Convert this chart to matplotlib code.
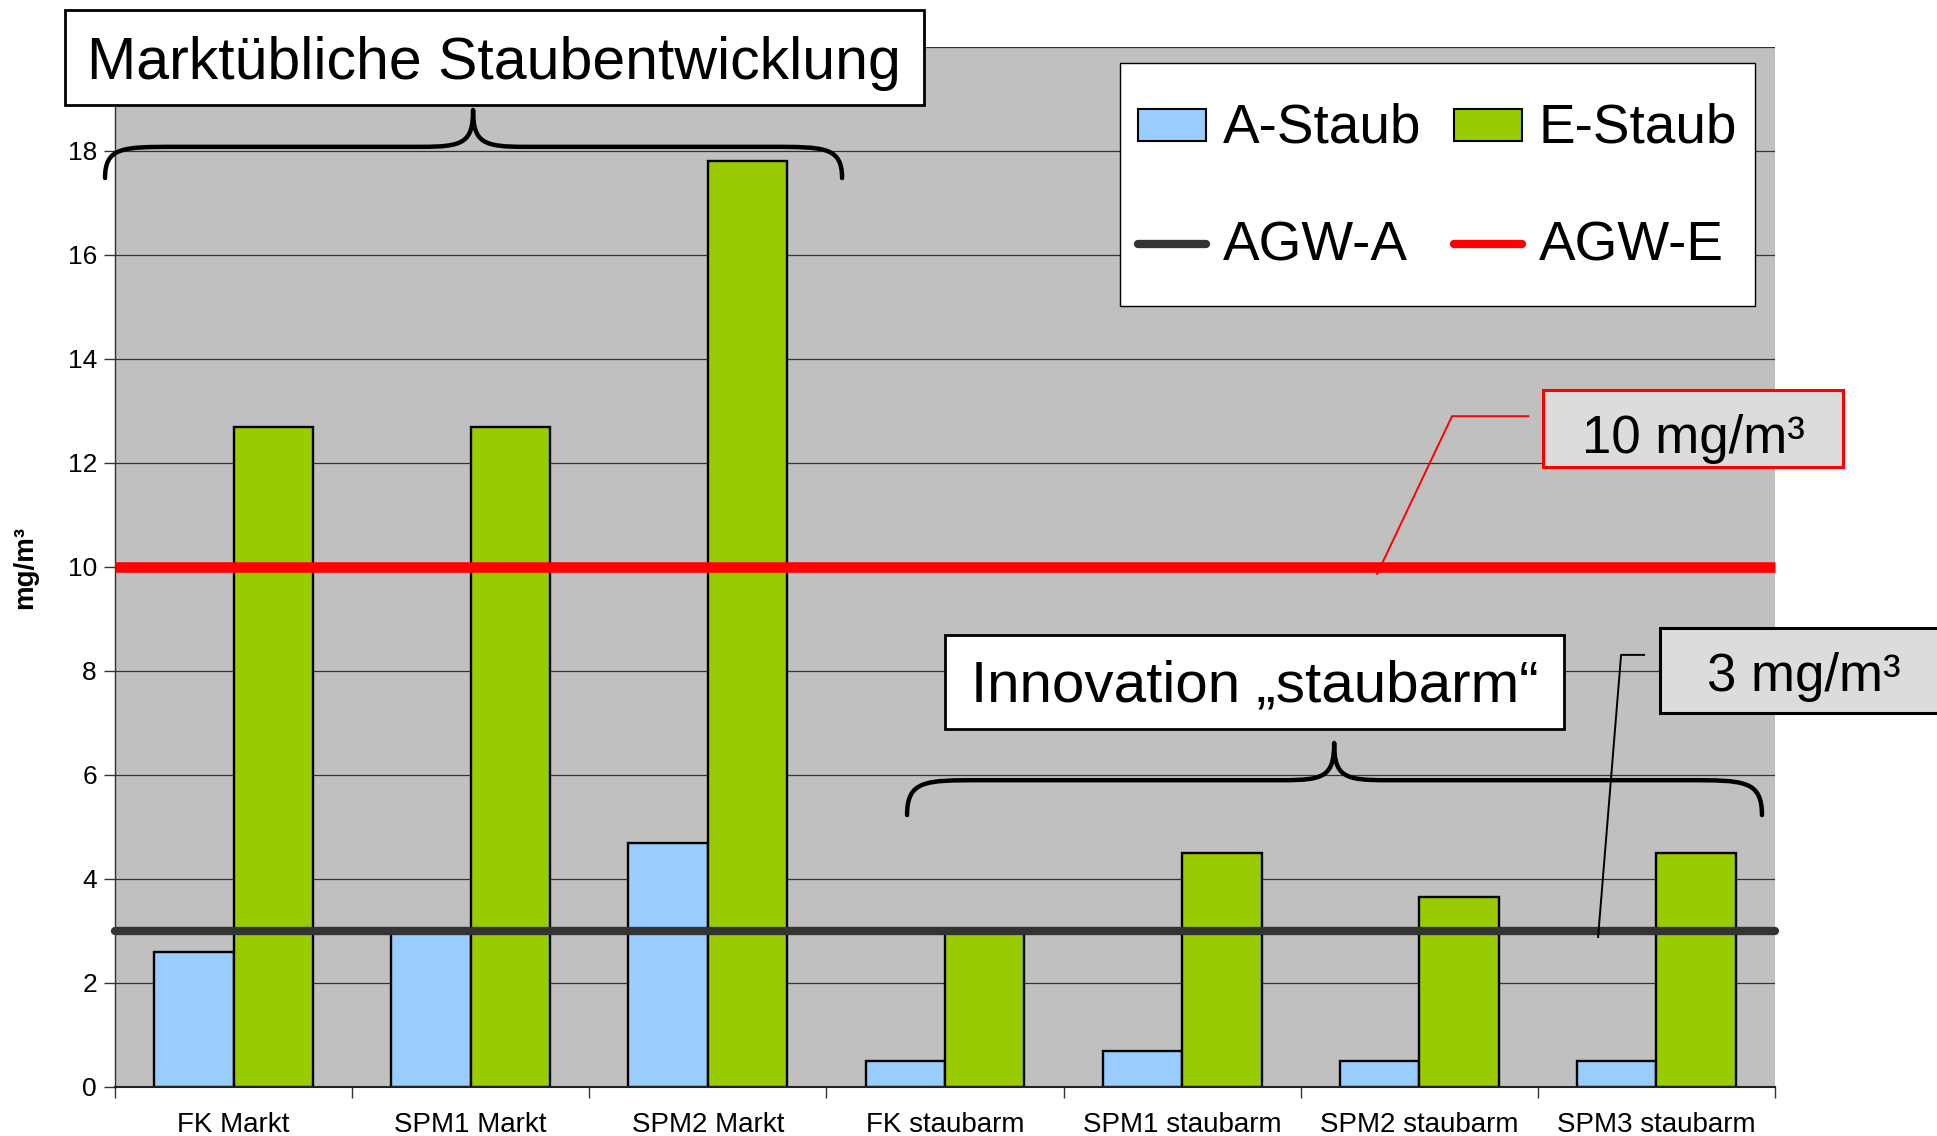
import numpy as np
import matplotlib
matplotlib.use("Agg")
import matplotlib.pyplot as plt
import matplotlib.patches as mpatches
from matplotlib.path import Path
from matplotlib.legend_handler import HandlerPatch, HandlerLine2D
from matplotlib.lines import Line2D

plt.rcParams['font.family'] = ['Liberation Sans', 'DejaVu Sans']

# ---------------- data ----------------
categories = ["FK Markt", "SPM1 Markt", "SPM2 Markt", "FK staubarm",
              "SPM1 staubarm", "SPM2 staubarm", "SPM3 staubarm"]
a_staub = [2.6, 3.0, 4.7, 0.5, 0.7, 0.5, 0.5]
e_staub = [12.7, 12.7, 17.8, 3.0, 4.5, 3.65, 4.5]
agw_a = 3.0
agw_e = 10.0
y_ticks = [0, 2, 4, 6, 8, 10, 12, 14, 16, 18, 20]
series_names = ["A-Staub", "E-Staub", "AGW-A", "AGW-E"]
title_text = "Marktübliche Staubentwicklung"
innov_text = "Innovation \u201estaubarm\u201c"
label_e = "10 mg/m\u00b3"
label_a = "3 mg/m\u00b3"
y_label = "mg/m\u00b3"

# ---------------- styles ----------------
c_a = "#99CCFF"
c_e = "#99CC00"
c_agwa = "#333333"
c_agwe = "#FF0000"
bg = "#C0C0C0"

W, H = 1937, 1136
fig = plt.figure(figsize=(W / 100, H / 100), dpi=100)
ax = fig.add_axes([115 / W, (H - 1087) / H, (1775 - 115) / W, 1040 / H])
ax.set_facecolor(bg)

x = np.arange(len(categories))
bw = 0.335
ax.bar(x - bw / 2, a_staub, width=bw, color=c_a, edgecolor="black", linewidth=1.7, zorder=2, label=series_names[0])
ax.bar(x + bw / 2, e_staub, width=bw, color=c_e, edgecolor="black", linewidth=1.7, zorder=2, label=series_names[1])

ax.set_xlim(-0.5, len(categories) - 0.5)
ax.set_ylim(0, 20)

la, = ax.plot([-0.5, len(categories) - 0.5], [agw_a, agw_a], color=c_agwa, lw=6,
              solid_capstyle="round", zorder=4, clip_on=False, label=series_names[2])
le, = ax.plot([-0.5, len(categories) - 0.5], [agw_e, agw_e], color=c_agwe, lw=7.6,
              solid_capstyle="butt", zorder=4, clip_on=False, label=series_names[3])

# grid & axes
ax.set_yticks(y_ticks)
ax.yaxis.grid(True, color="#333333", lw=0.9)
ax.set_axisbelow(True)
ax.set_xticks(x)
ax.set_xticklabels(categories, fontsize=20)
ax.set_xticks(np.arange(-0.5, len(categories), 1.0), minor=True)
ax.tick_params(axis="x", which="major", length=0, pad=18)
ax.tick_params(axis="x", which="minor", length=8, color="#333333", width=1)
ax.tick_params(axis="y", length=8, color="#333333", width=1, labelsize=19, pad=5)
for s in ["top", "right"]:
    ax.spines[s].set_visible(False)
ax.spines["left"].set_color("#333333")
ax.spines["left"].set_linewidth(1)
ax.spines["bottom"].set_color("#222222")
ax.spines["bottom"].set_linewidth(1.5)
ax.set_ylabel(y_label, fontsize=20, fontweight="bold", labelpad=21)

# ---------------- legend ----------------
def small_patch(legend, orig_handle, xdescent, ydescent, width, height, fontsize):
    h = 0.58 * fontsize
    return mpatches.Rectangle((-xdescent, -ydescent + (height - h) / 2), width, h)


class CenteredLine(HandlerLine2D):
    def create_artists(self, legend, orig_handle, xdescent, ydescent, width, height,
                       fontsize, trans):
        return super().create_artists(legend, orig_handle, xdescent, ydescent, width,
                                      height - ydescent, fontsize, trans)


ha = mpatches.Patch(facecolor=c_a, edgecolor="black", linewidth=1.5)
he = mpatches.Patch(facecolor=c_e, edgecolor="black", linewidth=1.5)
hla = Line2D([], [], color=c_agwa, lw=6, solid_capstyle="round")
hle = Line2D([], [], color=c_agwe, lw=6, solid_capstyle="round")
leg = ax.legend([ha, hla, he, hle],
                [series_names[0], series_names[2], series_names[1], series_names[3]],
                ncol=2, loc="upper left", bbox_to_anchor=(1120 / W, 1 - 63 / H),
                bbox_transform=fig.transFigure, fontsize=39.5, frameon=True,
                fancybox=False, edgecolor="black", framealpha=1,
                handlelength=1.25, handleheight=2.12, handletextpad=0.3,
                columnspacing=0.6, labelspacing=0.54, borderpad=0.32,
                borderaxespad=0,
                handler_map={mpatches.Patch: HandlerPatch(patch_func=small_patch),
                             Line2D: CenteredLine()})
leg.get_frame().set_linewidth(1.0)
leg.set_zorder(6)

# ---------------- annotations ----------------
def brace(x0, x1, xm, yh, yend, ytip, r_end, r_mid, lw=3.2):
    verts = [(x0, yend), (x0, yh), (x0 + 0.25 * r_end, yh), (x0 + r_end, yh),
             (xm - r_mid, yh),
             (xm - 0.2 * r_mid, yh), (xm, yh + 0.1 * (ytip - yh)), (xm, ytip),
             (xm, yh + 0.1 * (ytip - yh)), (xm + 0.2 * r_mid, yh), (xm + r_mid, yh),
             (x1 - r_end, yh),
             (x1 - 0.25 * r_end, yh), (x1, yh), (x1, yend)]
    codes = [Path.MOVETO, Path.CURVE4, Path.CURVE4, Path.CURVE4,
             Path.LINETO,
             Path.CURVE4, Path.CURVE4, Path.CURVE4,
             Path.CURVE4, Path.CURVE4, Path.CURVE4,
             Path.LINETO,
             Path.CURVE4, Path.CURVE4, Path.CURVE4]
    p = mpatches.PathPatch(Path(verts, codes), fill=False, lw=lw, edgecolor="black",
                           capstyle="round", joinstyle="round", zorder=7, clip_on=False)
    ax.add_patch(p)

brace(-0.542, 2.566, 1.010, 18.08, 17.48, 18.79, 0.30, 0.22)
brace(2.840, 6.445, 4.641, 5.90, 5.23, 6.615, 0.31, 0.215)

def box(x0, x1, y0, y1, fc, ec, lw, text, tx, ty, fs):
    r = mpatches.Rectangle((x0, y0), x1 - x0, y1 - y0, facecolor=fc, edgecolor=ec,
                           lw=lw, zorder=8, clip_on=False)
    ax.add_patch(r)
    ax.text(tx, ty, text, ha="center", va="center", fontsize=fs, zorder=9, clip_on=False)

# title box
box(-0.711, 2.911, 18.88, 20.71, "white", "black", 2.0, title_text, 1.100, 19.68, 42.5)
# innovation box
box(3.000, 5.610, 6.885, 8.69, "white", "black", 2.0, innov_text, 4.305, 7.71, 42)
# 10 mg/m3 callout
box(5.523, 6.788, 11.92, 13.40, "#DCDCDC", "#FF0000", 2.2, label_e, 6.155, 12.47, 38)
ax.plot([5.460, 5.138, 4.822], [12.90, 12.90, 9.865], color="#FF0000", lw=1.4,
        zorder=7, clip_on=False)
# 3 mg/m3 callout
box(6.015, 7.30, 7.19, 8.83, "#DCDCDC", "black", 2.2, label_a, 6.62, 7.88, 38)
ax.plot([5.948, 5.851, 5.754], [8.31, 8.31, 2.885], color="black", lw=1.4,
        zorder=7, clip_on=False)

fig.savefig("out.png", dpi=100)
